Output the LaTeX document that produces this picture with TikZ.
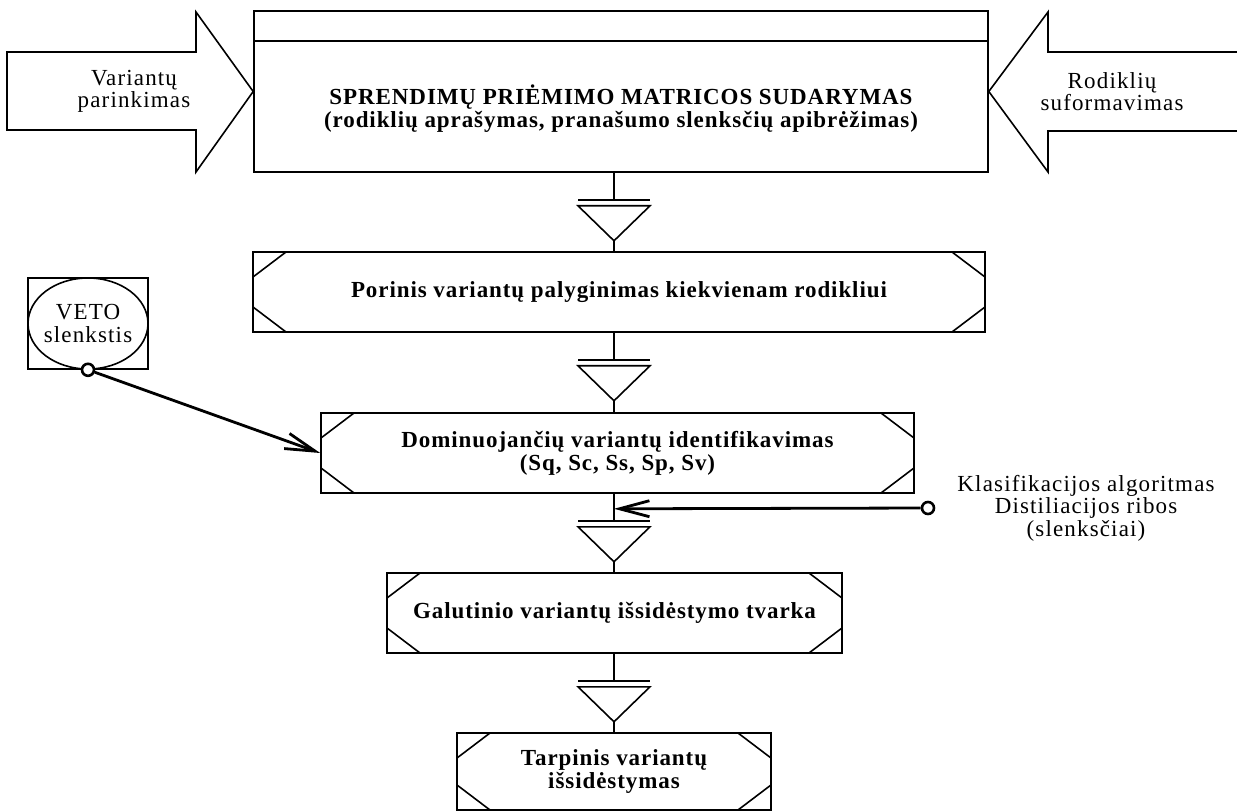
\documentclass[tikz,border=0pt]{standalone}
\usepackage{fontspec}
\setmainfont{Liberation Serif}
\newfontfamily\boxfont[LetterSpace=4]{Liberation Serif}
\newfontfamily\notefont[LetterSpace=5]{Liberation Serif}
\usetikzlibrary{arrows.meta}

\tikzset{
	boxtext/.style={font=\boxfont\bfseries\fontsize{11.5}{11.5}\selectfont,align=center},
	notetext/.style={font=\notefont\fontsize{11.5}{11.3}\selectfont,align=center},
	cutbox/.style={draw,boxtext,inner sep=0pt,minimum height=40pt,
		path picture={
			\draw ([xshift=16.5pt]path picture bounding box.north west) -- ([yshift=-12.5pt]path picture bounding box.north west);
			\draw ([xshift=-16.5pt]path picture bounding box.north east) -- ([yshift=-12.5pt]path picture bounding box.north east);
			\draw ([xshift=16.5pt]path picture bounding box.south west) -- ([yshift=12.5pt]path picture bounding box.south west);
			\draw ([xshift=-16.5pt]path picture bounding box.south east) -- ([yshift=12.5pt]path picture bounding box.south east);
		}},
	port/.style={circle,draw,fill=white,inner sep=0pt,minimum size=6pt,line width=1.3pt},
	feed/.style={line width=1.4pt,-{Straight Barb[length=15pt,width=8pt]}}
}

\newcommand{\gate}[1]{%
	\draw ([xshift=-18pt]#1) -- ([xshift=18pt]#1);
	\draw ([shift={(-18pt,-3pt)}]#1) -- ([shift={(18pt,-3pt)}]#1) -- ([yshift=-20.5pt]#1) -- cycle;}

\begin{document}
\begin{tikzpicture}[x=0.5pt,y=-0.5pt,line width=0.8pt]
	\useasboundingbox (0,0) rectangle (1237,812);

	\node[draw,minimum width=367pt,minimum height=80.5pt] (mat) at (621,91.5) {};
	\draw ([yshift=-15.5pt]mat.north west) -- ([yshift=-15.5pt]mat.north east);
	\node[boxtext] (mattitle) at (621,109) {SPRENDIMŲ PRIĖMIMO MATRICOS SUDARYMAS\\(rodiklių aprašymas, pranašumo slenksčių apibrėžimas)};

	\draw (7,52) -- (196,52) -- (196,12) -- (mat.west) -- (196,172) -- (196,130) -- (7,130) -- cycle;
	\node[notetext] (var) at (134,91.5) {Variantų\\parinkimas};
	\draw (1237,52) -- (1048,52) -- (1048,12) -- (mat.east) -- (1048,172) -- (1048,131) -- (1237,131);
	\node[notetext] (rod) at (1112,91.5) {Rodiklių\\suformavimas};

	\node[cutbox,minimum width=366pt] (por) at (619,292) {Porinis variantų palyginimas kiekvienam rodikliui};
	\node[cutbox,minimum width=296.5pt] (dom) at (617.5,453) {Dominuojančių variantų identifikavimas\\(Sq, Sc, Ss, Sp, Sv)};
	\node[cutbox,minimum width=227.5pt] (gal) at (614.5,613) {Galutinio variantų išsidėstymo tvarka};
	\node[cutbox,minimum width=157pt,minimum height=38.5pt] (tarp) at (614,771.5) {Tarpinis variantų\\išsidėstymas};

	\coordinate (axis) at (614,0);
	\foreach \a/\b in {mat/por,por/dom,dom/gal,gal/tarp} {
		\coordinate (g-\a) at ([yshift=-13.5pt]\a.south -| axis);
		\draw (\a.south -| axis) -- (g-\a);
		\gate{g-\a}
		\draw ([yshift=-20.5pt]g-\a) -- (\b.north -| axis);
	}

	\node[draw,notetext,minimum width=60pt,minimum height=45.5pt] (veto) at (88,323.5) {VETO\\slenkstis};
	\draw (veto.center) ellipse (30pt and 22.75pt);
	\node[port] (vp) at (veto.south) {};
	\draw[feed] (vp) -- (dom.west);

	\coordinate (kin) at ([yshift=-7.5pt]dom.south -| axis);
	\node[port] (kp) at (928,508) {};
	\draw[feed] (kp) -- (kin);
	\node[notetext] (klas) at (1086,508) {Klasifikacijos algoritmas\\Distiliacijos ribos\\(slenksčiai)};
\end{tikzpicture}
\end{document}
